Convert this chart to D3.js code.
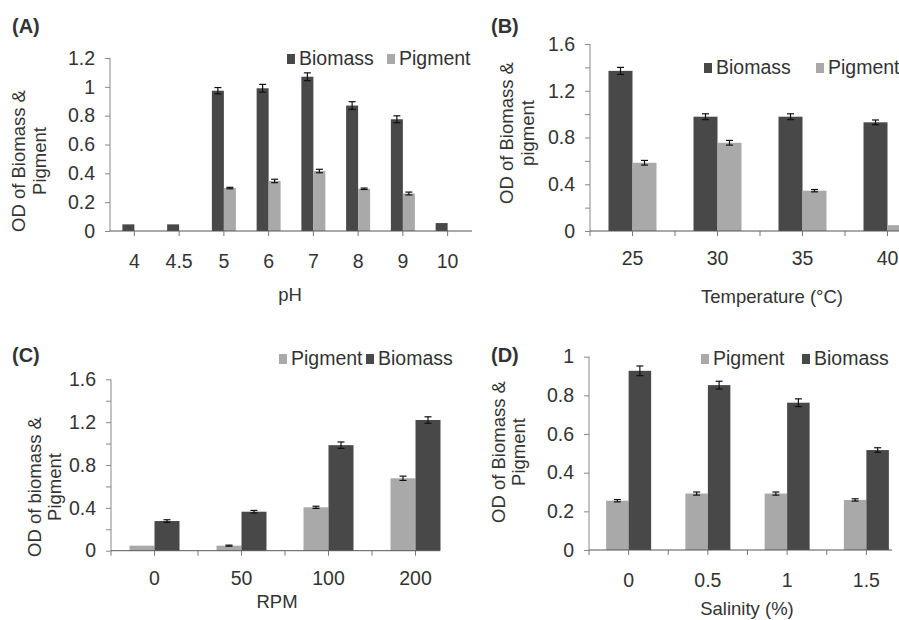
<!DOCTYPE html>
<html lang="en">
<head>
<meta charset="UTF-8">
<title>Biomass and pigment</title>
<script src="https://cdn.jsdelivr.net/npm/d3@7"></script>
<style>
    body { margin: 0; background: #fff; }
    text { font-family: Arial, "Liberation Sans", sans-serif; fill: #333; }
</style>
</head>
<body>
<div id="chart"></div>
<script>
    // Data
    const phLabels = ["4", "4.5", "5", "6", "7", "8", "9", "10"];
    const phBiomass = [0.046, 0.046, 0.973, 0.99, 1.07, 0.87, 0.775, 0.055];
    const phBiomassErr = [0, 0, 0.022, 0.027, 0.027, 0.027, 0.024, 0];
    const phPigment = [0, 0, 0.298, 0.347, 0.416, 0.293, 0.26, 0];
    const phPigmentErr = [0, 0, 0.005, 0.012, 0.012, 0.005, 0.01, 0];

    const tempLabels = ["25", "30", "35", "40"];
    const tempBiomass = [1.37, 0.978, 0.978, 0.93];
    const tempBiomassErr = [0.03, 0.025, 0.025, 0.02];
    const tempPigment = [0.584, 0.755, 0.345, 0.05];
    const tempPigmentErr = [0.02, 0.02, 0.01, 0];

    const rpmLabels = ["0", "50", "100", "200"];
    const rpmPigment = [0.047, 0.047, 0.405, 0.676];
    const rpmPigmentErr = [0, 0.005, 0.01, 0.02];
    const rpmBiomass = [0.277, 0.364, 0.985, 1.22];
    const rpmBiomassErr = [0.012, 0.012, 0.03, 0.03];

    const salLabels = ["0", "0.5", "1", "1.5"];
    const salPigment = [0.255, 0.292, 0.292, 0.259];
    const salPigmentErr = [0.006, 0.008, 0.008, 0.006];
    const salBiomass = [0.927, 0.853, 0.762, 0.517];
    const salBiomassErr = [0.025, 0.02, 0.02, 0.012];

    const dark = "#484848", light = "#a9a9a9";
    const font = "Arial, 'Liberation Sans', sans-serif";

    const svg = d3.select("#chart").append("svg")
        .attr("width", 899).attr("height", 620);

    function panel(p) {
        const g = svg.append("g");
        const x = d3.scaleBand().domain(p.labels).range(p.xRange);
        const y = d3.scaleLinear().domain(p.yDomain).range(p.yRange);
        const x0 = p.yAxisX, yb = p.yRange[0];
        const bw = p.barW;

        // y axis: minor ticks, then labelled ticks
        const ya = g.append("g").attr("transform", `translate(${x0},0)`)
            .call(d3.axisLeft(y).tickValues(p.yMinor).tickSize(5).tickFormat(""));
        ya.select(".domain").remove();
        ya.selectAll("line").attr("stroke", "#888");
        const yl = g.append("g").attr("transform", `translate(${x0},0)`)
            .call(d3.axisLeft(y).tickValues(p.yTicks).tickSize(5).tickPadding(10)
                .tickFormat(d => String(+d.toFixed(1))));
        yl.select(".domain").remove();
        yl.selectAll("line").attr("stroke", "#888");
        yl.selectAll("text").attr("font-size", 19.5).attr("fill", "#3a3a3a")
            .attr("font-family", font);
        g.append("line").attr("x1", x0).attr("x2", x0)
            .attr("y1", y(p.yDomain[1])).attr("y2", yb).attr("stroke", "#888");

        // bars + error bars
        p.series.forEach((s, si) => {
            const off = si === 0 ? -bw : 0;
            g.selectAll(null).data(s.values).enter().append("rect")
                .attr("x", (d, i) => x(p.labels[i]) + x.bandwidth() / 2 + off)
                .attr("width", bw)
                .attr("y", d => y(d))
                .attr("height", d => yb - y(d))
                .attr("fill", s.color);
            s.values.forEach((d, i) => {
                const e = s.err[i];
                if (e <= 0) return;
                const cx = x(p.labels[i]) + x.bandwidth() / 2 + off + bw / 2;
                g.append("line").attr("x1", cx).attr("x2", cx)
                    .attr("y1", y(d + e)).attr("y2", y(d - e))
                    .attr("stroke", "#111").attr("stroke-width", 1.2);
                [d + e, d - e].forEach(v => {
                    g.append("line").attr("x1", cx - 3.5).attr("x2", cx + 3.5)
                        .attr("y1", y(v)).attr("y2", y(v))
                        .attr("stroke", "#111").attr("stroke-width", 1.2);
                });
            });
        });

        // x axis
        g.append("line").attr("x1", x0).attr("x2", p.xAxisEnd)
            .attr("y1", yb).attr("y2", yb).attr("stroke", "#555");
        const tickPos = p.labels.map(l => x(l) + x.bandwidth() / 2);
        if (p.boundaryTicks) p.labels.forEach(l => tickPos.push(x(l)));
        g.selectAll(null).data(tickPos.filter(t => t <= p.xAxisEnd)).enter().append("line")
            .attr("x1", d => d).attr("x2", d => d)
            .attr("y1", yb).attr("y2", yb + 5).attr("stroke", "#777");
        g.selectAll(null).data(p.labels).enter().append("text")
            .attr("x", d => x(d) + x.bandwidth() / 2)
            .attr("y", p.xLabelY)
            .attr("text-anchor", "middle").attr("font-size", 19.5)
            .text(d => d);
        g.append("text").attr("x", p.xTitle[0]).attr("y", p.xTitle[1])
            .attr("text-anchor", "middle").attr("font-size", 18.5)
            .text(p.xTitleText);

        // y title (two lines)
        p.yTitle.forEach((line, i) => {
            g.append("text")
                .attr("transform", `translate(${p.yTitleX[i]},${p.yTitleY}) rotate(-90)`)
                .attr("text-anchor", "middle").attr("font-size", 18.5)
                .text(line);
        });

        // panel letter
        g.append("text").attr("x", p.tag[0]).attr("y", p.tag[1])
            .attr("font-size", 20).attr("font-weight", "bold").attr("fill", "#111")
            .text(p.tagText);

        // legend
        p.legend.forEach(it => {
            g.append("rect").attr("x", it.x).attr("y", p.legendY - 11)
                .attr("width", 8).attr("height", 10).attr("fill", it.color);
            g.append("text").attr("x", it.x + 12).attr("y", p.legendY)
                .attr("font-size", 19.5).text(it.name);
        });
    }

    panel({
        labels: phLabels, xRange: [112, 470], xAxisEnd: 472, yAxisX: 110,
        yDomain: [0, 1.2], yRange: [231, 58], yTicks: d3.range(0, 1.21, 0.2), yMinor: [],
        barW: 12, boundaryTicks: false,
        series: [
            { values: phBiomass, err: phBiomassErr, color: dark },
            { values: phPigment, err: phPigmentErr, color: light }
        ],
        xLabelY: 268, xTitle: [290, 301], xTitleText: "pH",
        yTitle: ["OD of Biomass &", "Pigment"], yTitleX: [25, 46], yTitleY: 161,
        tag: [12, 33], tagText: "(A)",
        legendY: 65,
        legend: [{ name: "Biomass", color: dark, x: 287 }, { name: "Pigment", color: light, x: 387 }]
    });

    panel({
        labels: tempLabels, xRange: [590, 930], xAxisEnd: 931, yAxisX: 590,
        yDomain: [0, 1.6], yRange: [231, 44], yTicks: d3.range(0, 1.61, 0.4), yMinor: d3.range(0.2, 1.5, 0.4),
        barW: 24, boundaryTicks: true,
        series: [
            { values: tempBiomass, err: tempBiomassErr, color: dark },
            { values: tempPigment, err: tempPigmentErr, color: light }
        ],
        xLabelY: 265, xTitle: [772, 303], xTitleText: "Temperature (°C)",
        yTitle: ["OD of Biomass &", "pigment"], yTitleX: [513, 534], yTitleY: 133,
        tag: [491, 33], tagText: "(B)",
        legendY: 74,
        legend: [{ name: "Biomass", color: dark, x: 704 }, { name: "Pigment", color: light, x: 816 }]
    });

    panel({
        labels: rpmLabels, xRange: [111, 459], xAxisEnd: 440, yAxisX: 111,
        yDomain: [0, 1.6], yRange: [550.7, 379.3], yTicks: d3.range(0, 1.61, 0.4), yMinor: d3.range(0.2, 1.5, 0.4),
        barW: 25, boundaryTicks: true,
        series: [
            { values: rpmPigment, err: rpmPigmentErr, color: light },
            { values: rpmBiomass, err: rpmBiomassErr, color: dark }
        ],
        xLabelY: 585, xTitle: [277, 608], xTitleText: "RPM",
        yTitle: ["OD of biomass &", "Pigment"], yTitleX: [41, 61], yTitleY: 487,
        tag: [12, 362], tagText: "(C)",
        legendY: 365,
        legend: [{ name: "Pigment", color: light, x: 279 }, { name: "Biomass", color: dark, x: 366 }]
    });

    panel({
        labels: salLabels, xRange: [589, 906], xAxisEnd: 892, yAxisX: 589,
        yDomain: [0, 1], yRange: [550, 356.7], yTicks: d3.range(0, 1.01, 0.2), yMinor: [],
        barW: 22.5, boundaryTicks: true,
        series: [
            { values: salPigment, err: salPigmentErr, color: light },
            { values: salBiomass, err: salBiomassErr, color: dark }
        ],
        xLabelY: 587, xTitle: [747, 615], xTitleText: "Salinity (%)",
        yTitle: ["OD of Biomass &", "Pigment"], yTitleX: [505, 525], yTitleY: 452,
        tag: [491, 362], tagText: "(D)",
        legendY: 365,
        legend: [{ name: "Pigment", color: light, x: 701 }, { name: "Biomass", color: dark, x: 802 }]
    });
</script>
</body>
</html>
